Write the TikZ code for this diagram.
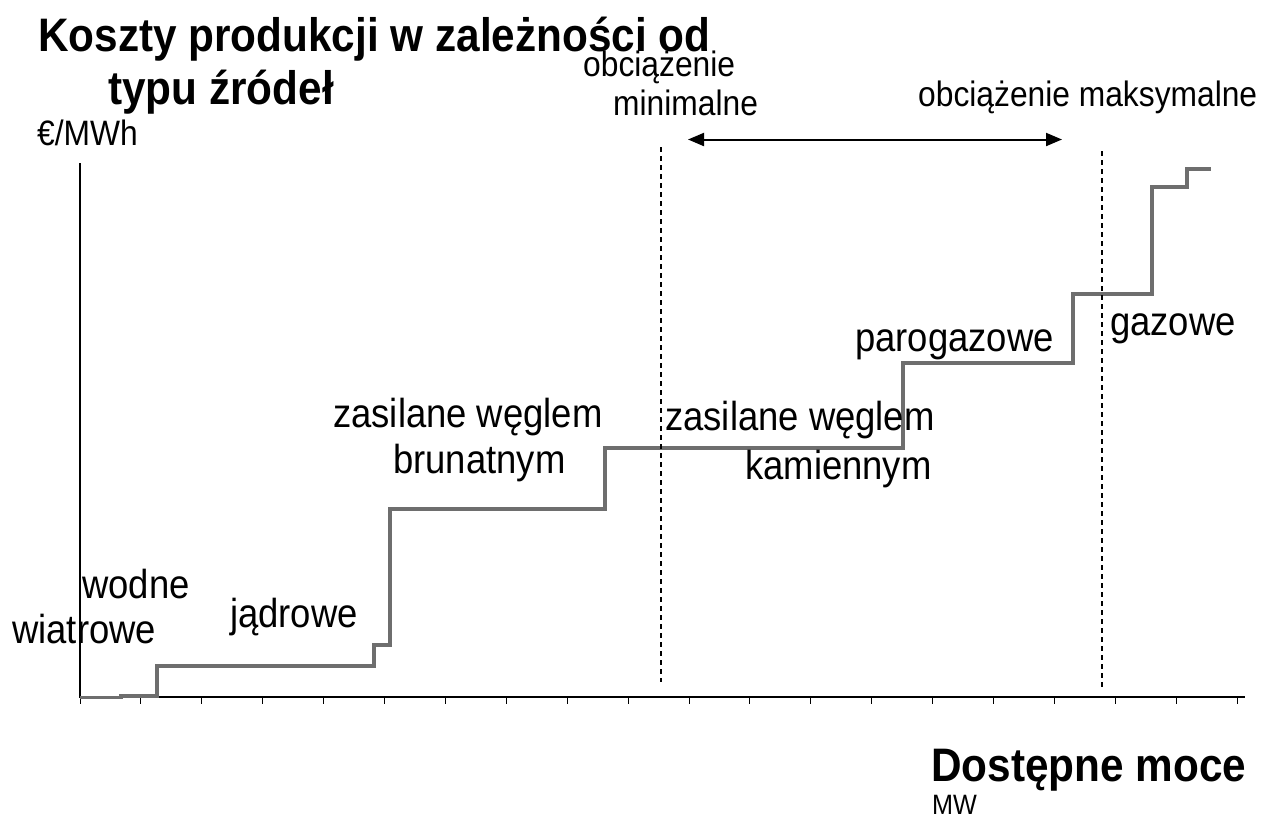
\documentclass[tikz,border=0pt]{standalone}
\usepackage{fontspec}
\setmainfont{Liberation Sans}[FakeStretch=0.9]
\usepackage{tikz}
\usetikzlibrary{arrows.meta}

\definecolor{stepgray}{HTML}{6E6E6E}
\newcommand{\titlefont}{\fontsize{47}{52}\selectfont\bfseries}
\newcommand{\labelfont}{\fontsize{40.5}{46}\selectfont}
\newcommand{\smallfont}{\fontsize{35.3}{40}\selectfont}

\begin{document}
\begin{tikzpicture}[x=1pt,y=-1pt]
\tikzstyle{every node}+=[inner sep=0pt,anchor=base west]
\tikzset{
  curve/.style={stepgray,line width=3.5pt,line join=miter},
  limit/.style={black,line width=1.6pt,dash pattern=on 5pt off 4pt},
}
\useasboundingbox (0,0) rectangle (1263,823);
% axes
\draw [black,line width=1.3pt] (80,163) -- (80,697) -- (1245,697);
\foreach \k in {0,...,19}
  \draw [black,line width=1pt] (80+60.9*\k,697) -- (80+60.9*\k,704);
% merit order
\draw [curve] (80,697.5) -- (121,697.5) -- (121,696) -- (157,696) -- (157,666)
  -- (374,666) -- (374,645) -- (390,645) -- (390,509) -- (605,509) -- (605,448)
  -- (903,448) -- (903,363) -- (1073,363) -- (1073,294) -- (1152,294)
  -- (1152,187) -- (1187,187) -- (1187,169) -- (1211,169);
% load limits
\coordinate (minTop) at (661,147);
\coordinate (minBot) at (661,682);
\coordinate (maxTop) at (1102,151);
\coordinate (maxBot) at (1102,688);
\draw [limit] (minTop) -- (minBot);
\draw [limit] (maxTop) -- (maxBot);
\coordinate (rangeL) at (688,139.5);
\coordinate (rangeR) at (1062,139.5);
\draw [black,line width=2pt,{Triangle[length=16pt,width=13pt]}-{Triangle[length=16pt,width=13pt]}] (rangeL) -- (rangeR);
% texts
\node (title1) at (38,51) {\titlefont Koszty produkcji w zależności od};
\node (title2) at (108,104) {\titlefont typu źródeł};
\node (yunit) at (37,145) {\smallfont €/MWh};
\node (minA) at (583,76) {\smallfont obciążenie};
\node (minB) at (613,115) {\smallfont minimalne};
\node (maxA) at (918,106) {\smallfont obciążenie maksymalne};
\node (hydro) at (82,598) {\labelfont wodne};
\node (wind) at (12,643) {\labelfont wiatrowe};
\node (nuclear) at (230,627) {\labelfont jądrowe};
\node (ligA) at (333,427) {\labelfont zasilane węglem};
\node (ligB) at (393,473) {\labelfont brunatnym};
\node (coalA) at (665,430) {\labelfont zasilane węglem};
\node (coalB) at (745,479) {\labelfont kamiennym};
\node (ccgt) at (855,351) {\labelfont parogazowe};
\node (gas) at (1110,335) {\labelfont gazowe};
\node (xtitle) at (931,781) {\titlefont Dostępne moce};
\node (xunit) at (932,814) {\fontsize{28}{32}\selectfont MW};
\end{tikzpicture}
\end{document}
